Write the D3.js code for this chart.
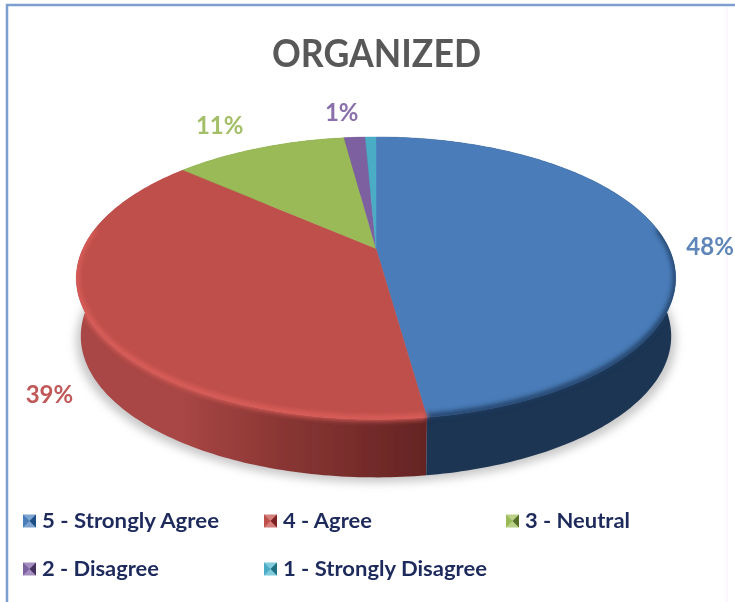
<!DOCTYPE html>
<html>
<head>
<meta charset="utf-8">
<script src="https://cdn.jsdelivr.net/npm/d3@7"></script>
<style>
html,body{margin:0;padding:0;background:#fff;}
svg{display:block;font-family:Lato,"Open Sans",sans-serif;}
</style>
</head>
<body>
<svg id="chart" width="735" height="602"></svg>
<script>
// ---- data ----
const chartTitle = "ORGANIZED";
const categories = ["5 - Strongly Agree","4 - Agree","3 - Neutral","2 - Disagree","1 - Strongly Disagree"];
const shareValues = [47.8,38.7,11.4,1.4,0.7];
const dataLabels = ["48%","39%","11%","1%",""];
const faceColors = ["#4a7cb8","#bf4f4b","#9aba59","#7d60a0","#4bacc6"];
const labelColors = ["#5f86b8","#c0595a","#a3bf68","#8a70aa","#4bacc6"];
const wallStops = [["#223f63","#1c3452"],["#652423","#a84644"],["#6e8a3c","#6e8a3c"],["#54406e","#54406e"],["#2f7488","#2f7488"]];
const wallMid = ["#1e3859","#8a3634","#6e8a3c","#54406e","#2f7488"];
const rimColors = ["#1f3a5e","#e0605c","#9aba59","#7d60a0","#4bacc6"];
const markerDark = ["#1f4f85","#7c2422","#56702c","#46305f","#1f6f80"];
const markerLight = ["#7da3d0","#d57f7c","#b9d086","#a48fc0","#7fcbdc"];

// ---- layout ----
const cx = 376, apexY = 248.5, radiusX = 293, radiusY = 135, tilt = -0.21;
const wallDepth = 58, wallScale = 0.985;
const labelOffsets = [[46,8],[-40,76],[-40,-22],[-13,-24],[0,0]];
const legendCols = [23,264,506], legendRows = [521,569];
const legendLayout = [[0,0],[1,0],[2,0],[0,1],[1,1]];
const legendWidths = [177,89,105,117,204];
const markerSize = 13;

const svg = d3.select("#chart");
const defs = svg.append("defs");
const blur = (id,s)=>defs.append("filter").attr("id",id)
  .attr("filterUnits","userSpaceOnUse")
  .attr("x",0).attr("y",0).attr("width",735).attr("height",602)
  .append("feGaussianBlur").attr("stdDeviation",s);
blur("soft",0.55); blur("rimBlur",2.4); blur("shadowBlur",5);

// perspective projection of a unit disc onto the tilted pie
const sx = d3.scaleLinear().domain([0,1]).range([0,radiusX]);
const sy = d3.scaleLinear().domain([0,1]).range([0,radiusY]);
const project = (theta,drop=0,scale=1)=>{
  const x=Math.sin(theta), y=-Math.cos(theta), k=1+tilt*y;
  return [cx+sx(x)/k*scale, apexY+sy(y)/k+drop];
};
const samples = (a,b,n=Math.max(4,Math.ceil((b-a)*60)))=>d3.range(n+1).map(i=>a+(b-a)*i/n);
const line = d3.line();
const arcs = d3.pie().sort(null).value(d=>d).startAngle(0).endAngle(2*Math.PI)(shareValues);
const wallPath = d=>{
  const ts = samples(d.startAngle,d.endAngle);
  const topEdge = ts.map(t=>project(t));
  const bottomEdge = ts.slice().reverse().map(t=>project(t,wallDepth,wallScale));
  return line(topEdge.concat(bottomEdge))+"Z";
};
const facePath = d=>line([[cx,apexY]].concat(samples(d.startAngle,d.endAngle).map(t=>project(t))))+"Z";

const root = svg.append("g").attr("filter","url(#soft)");

// frame
root.append("path").attr("d",d3.line()([[7,602],[7,5],[735,5]]))
  .attr("fill","none").attr("stroke","#7c9fd0").attr("stroke-width",2.5);
root.append("line").attr("x1",727).attr("x2",727).attr("y1",7).attr("y2",602)
  .attr("stroke","#fcf7fc").attr("stroke-width",2);

// title
root.append("text").attr("x",272).attr("y",67)
  .attr("font-size",38).attr("font-weight",700).attr("fill","#595959")
  .attr("textLength",209).attr("lengthAdjust","spacingAndGlyphs")
  .text(chartTitle);

// shadow
root.append("path")
  .attr("d",line(samples(0,2*Math.PI,180).map(t=>project(t,wallDepth+5)))+"Z")
  .attr("fill","#8f8f8f").attr("opacity",0.5).attr("filter","url(#shadowBlur)");

// walls
arcs.forEach((d,i)=>{
  const g = defs.append("linearGradient").attr("id","wall"+i)
    .attr("gradientUnits","userSpaceOnUse")
    .attr("x1",project(d.startAngle)[0]).attr("x2",project(d.endAngle)[0]).attr("y1",0).attr("y2",0);
  g.append("stop").attr("offset",0).attr("stop-color",wallStops[i][0]);
  g.append("stop").attr("offset",0.6).attr("stop-color",wallMid[i]);
  g.append("stop").attr("offset",1).attr("stop-color",wallStops[i][1]);
});
arcs.slice().sort((a,b)=>b.index-a.index).forEach(d=>{
  root.append("path").attr("d",wallPath(d)).attr("fill",`url(#wall${d.index})`);
});

// top faces
arcs.forEach(d=>{
  root.append("path").attr("d",facePath(d)).attr("fill",faceColors[d.index])
    .attr("stroke",faceColors[d.index]).attr("stroke-width",0.4);
});

// bevel along the front rim, kept inside the pie's silhouette
const silhouette = defs.append("clipPath").attr("id","solidClip");
arcs.forEach(d=>{
  silhouette.append("path").attr("d",facePath(d));
  silhouette.append("path").attr("d",wallPath(d));
});
const bevel = root.append("g").attr("clip-path","url(#solidClip)");
arcs.forEach(d=>{
  const pts = samples(d.startAngle,d.endAngle).filter(t=>-Math.cos(t)>=-0.15).map(t=>project(t,-1));
  if(pts.length<2) return;
  bevel.append("path").attr("d",line(pts)).attr("fill","none")
    .attr("stroke",rimColors[d.index]).attr("stroke-width",5)
    .attr("filter","url(#rimBlur)");
});

// data labels
arcs.forEach(d=>{
  if(!dataLabels[d.index]) return;
  const p = project((d.startAngle+d.endAngle)/2);
  root.append("text").attr("x",p[0]+labelOffsets[d.index][0]).attr("y",p[1]+labelOffsets[d.index][1]+8)
    .attr("text-anchor","middle").attr("font-size",24).attr("font-weight",700)
    .attr("fill",labelColors[d.index]).text(dataLabels[d.index]);
});

// legend
categories.forEach((c,i)=>{
  const x = legendCols[legendLayout[i][0]], y = legendRows[legendLayout[i][1]];
  const g = root.append("g").attr("transform",`translate(${x},${y-markerSize/2})`);
  const s = markerSize, m = s/2;
  g.append("rect").attr("width",s).attr("height",s).attr("fill",markerLight[i]);
  g.append("path").attr("d",line([[0,0],[m,m],[0,s]])+"Z").attr("fill",faceColors[i]);
  g.append("path").attr("d",line([[s,0],[m,m],[s,s]])+"Z").attr("fill",markerDark[i]);
  root.append("text").attr("x",x+19).attr("y",y+7).attr("font-size",21).attr("font-weight",700)
    .attr("fill","#1f2a5c").attr("textLength",legendWidths[i]).attr("lengthAdjust","spacingAndGlyphs").text(c);
});
</script>
</body>
</html>
